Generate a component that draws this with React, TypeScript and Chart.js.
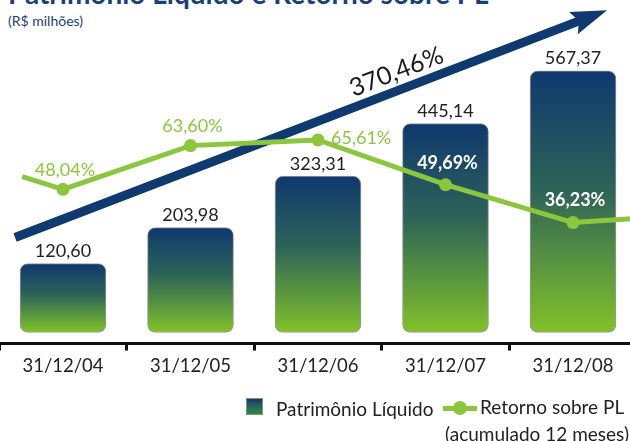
import React, { useEffect, useRef } from 'react';
import { Chart, registerables } from 'chart.js';

Chart.register(...registerables);

// ---------- data ----------
const categories = ['31/12/04', '31/12/05', '31/12/06', '31/12/07', '31/12/08'];
const patrimonioLiquido = [120.6, 203.98, 323.31, 445.14, 567.37]; // R$ milhões
const retornoPL = [48.04, 63.6, 65.61, 49.69, 36.23]; // % (acumulado 12 meses)
// the return curve runs in from the left and out to the right edge: [x index, %]
const retornoLeadIn = [-0.32, 52.6];
const retornoLeadOut = [4.46, 37.6];
// growth arrow, in [x index, R$ milhões]
const growthArrowFrom = [-0.376, 181];
const growthArrowTo = [4.267, 708];
const barAxisRange = [-64.6, 731.7];
const barBase = -39;
const retornoAxisRange = [-6.8, 115.4];
const retornoLabelPlacement = ['above', 'above', 'right', 'inside', 'inside'];

const titleText = 'Patrimônio Líquido e Retorno sobre PL';
const subtitleText = '(R$ milhões)';
const legendBarLabel = 'Patrimônio Líquido';
const legendLineLabel = 'Retorno sobre PL';
const legendLineLabel2 = '(acumulado 12 meses)';

// ---------- style ----------
const NAVY = '#0e3a6f';
const GREEN = '#8cc63f';
const TEXT = '#222222';
const FONT = 'Lato, "Open Sans", sans-serif';

const fmt = (v: number, d = 2) => v.toFixed(d).replace('.', ',');
const growthPct =
  (patrimonioLiquido[patrimonioLiquido.length - 1] / patrimonioLiquido[0] - 1) * 100;

function barGradient(c: CanvasRenderingContext2D, top: number, bottom: number) {
  const g = c.createLinearGradient(0, top, 0, bottom);
  g.addColorStop(0, '#0f386f');
  g.addColorStop(0.45, '#2d6357');
  g.addColorStop(1, '#82c12a');
  return g;
}

const overlayPlugin = {
  id: 'overlay',
  beforeDatasetsDraw(chart: any) {
    const c: CanvasRenderingContext2D = chart.ctx;
    const xs = chart.scales.xl;
    const ys = chart.scales.y;
    const x0 = xs.getPixelForValue(growthArrowFrom[0]);
    const y0 = ys.getPixelForValue(growthArrowFrom[1]);
    const x1 = xs.getPixelForValue(growthArrowTo[0]);
    const y1 = ys.getPixelForValue(growthArrowTo[1]);
    const ang = Math.atan2(y1 - y0, x1 - x0);
    const ux = Math.cos(ang), uy = Math.sin(ang);
    const nx = -uy, ny = ux;
    const headLen = 36, headHalf = 12, notch = 6;
    c.save();
    c.strokeStyle = NAVY;
    c.lineWidth = 9;
    c.lineCap = 'butt';
    c.beginPath();
    c.moveTo(x0, y0);
    c.lineTo(x1 - ux * (headLen - notch - 1), y1 - uy * (headLen - notch - 1));
    c.stroke();
    c.fillStyle = NAVY;
    c.beginPath();
    c.moveTo(x1, y1);
    c.lineTo(x1 - ux * headLen + nx * headHalf, y1 - uy * headLen + ny * headHalf);
    c.lineTo(x1 - ux * (headLen - notch), y1 - uy * (headLen - notch));
    c.lineTo(x1 - ux * headLen - nx * headHalf, y1 - uy * headLen - ny * headHalf);
    c.closePath();
    c.fill();
    // growth label along the arrow
    const f = 0.655;
    const tx = x0 + (x1 - x0) * f - nx * 18;
    const ty = y0 + (y1 - y0) * f - ny * 18;
    c.translate(tx, ty);
    c.rotate(ang);
    c.fillStyle = '#1a1a1a';
    c.font = `25px ${FONT}`;
    c.textAlign = 'center';
    c.textBaseline = 'middle';
    c.fillText(fmt(growthPct) + '%', 0, 0);
    c.restore();
  },
  afterDatasetsDraw(chart: any) {
    const c: CanvasRenderingContext2D = chart.ctx;
    c.save();
    // bar values
    const barMeta = chart.getDatasetMeta(1);
    c.font = `18px ${FONT}`;
    c.fillStyle = TEXT;
    c.textAlign = 'center';
    c.textBaseline = 'alphabetic';
    barMeta.data.forEach((el: any, i: number) => {
      c.fillText(fmt(patrimonioLiquido[i]), el.x, el.y - 6.5);
    });
    // return labels
    const lineMeta = chart.getDatasetMeta(0);
    retornoPL.forEach((v, i) => {
      const el = lineMeta.data[i + 1];
      const place = retornoLabelPlacement[i];
      c.textBaseline = 'middle';
      if (place === 'inside') {
        c.font = `bold 18px ${FONT}`;
        c.fillStyle = '#ffffff';
        c.textAlign = 'center';
        c.fillText(fmt(v) + '%', el.x + 2, el.y - 22);
      } else if (place === 'right') {
        c.font = `18px ${FONT}`;
        c.fillStyle = GREEN;
        c.textAlign = 'left';
        c.fillText(fmt(v) + '%', el.x + 13, el.y - 2);
      } else {
        c.font = `18px ${FONT}`;
        c.fillStyle = GREEN;
        c.textAlign = 'center';
        c.fillText(fmt(v) + '%', el.x + 2, el.y - 19);
      }
    });
    c.restore();
  },
};

export default function App() {
  const canvasRef = useRef<HTMLCanvasElement | null>(null);

  useEffect(() => {
    const canvas = canvasRef.current;
    if (!canvas) return;
    const lineData = [
      { x: retornoLeadIn[0], y: retornoLeadIn[1] },
      ...retornoPL.map((v, i) => ({ x: i, y: v })),
      { x: retornoLeadOut[0], y: retornoLeadOut[1] },
    ];
    const lastIdx = lineData.length - 1;
    const chart = new Chart(canvas, {
      type: 'bar',
      data: {
        labels: categories,
        datasets: [
          {
            type: 'line',
            label: legendLineLabel,
            data: lineData as any,
            xAxisID: 'xl',
            yAxisID: 'y2',
            borderColor: GREEN,
            backgroundColor: GREEN,
            borderWidth: 5,
            pointRadius: (ctx: any) => (ctx.dataIndex === 0 || ctx.dataIndex === lastIdx ? 0 : 6.5),
            pointHoverRadius: 0,
            pointBorderWidth: 0,
            tension: 0,
            order: 0,
            clip: false as any,
          } as any,
          {
            type: 'bar',
            label: legendBarLabel,
            data: patrimonioLiquido,
            base: barBase,
            xAxisID: 'x',
            yAxisID: 'y',
            grouped: false,
            backgroundColor: (ctx: any) => {
              const ys = ctx.chart.scales.y;
              if (!ys || ctx.type !== 'data') return NAVY;
              const top = ys.getPixelForValue(ctx.raw as number);
              const bot = ys.getPixelForValue(barBase);
              if (!isFinite(top) || !isFinite(bot)) return NAVY;
              return barGradient(ctx.chart.ctx, top, bot);
            },
            borderColor: '#9a9a9a',
            borderWidth: 1,
            borderRadius: 8,
            borderSkipped: false,
            barThickness: 86,
            order: 1,
          } as any,
        ],
      },
      options: {
        responsive: false,
        animation: false,
        devicePixelRatio: 1,
        layout: { padding: { left: 9.25, right: 13.25, top: 0, bottom: 60.3 } },
        plugins: {
          legend: { display: false },
          tooltip: { enabled: false },
          title: { display: false },
        },
        scales: {
          x: {
            type: 'category',
            offset: true,
            grid: {
              display: true,
              drawOnChartArea: false,
              drawTicks: true,
              tickLength: 7,
              color: '#111111',
              lineWidth: 3,
              offset: true,
            },
            border: { display: true, color: '#111111', width: 3 },
            ticks: {
              color: TEXT,
              font: { family: FONT, size: 18.5 },
              padding: 4,
              maxRotation: 0,
              autoSkip: false,
            },
          },
          xl: {
            type: 'linear',
            display: false,
            offset: false,
            grid: { offset: false },
            min: -0.5,
            max: 4.5,
          },
          y: { display: false, min: barAxisRange[0], max: barAxisRange[1] },
          y2: { display: false, min: retornoAxisRange[0], max: retornoAxisRange[1] },
        },
      } as any,
      plugins: [overlayPlugin],
    });
    return () => chart.destroy();
  }, []);

  const textBase: React.CSSProperties = {
    position: 'absolute',
    fontFamily: FONT,
    whiteSpace: 'nowrap',
    margin: 0,
  };

  return (
    <div
      style={{
        position: 'fixed',
        left: 0,
        top: 0,
        width: 630,
        height: 441,
        overflow: 'hidden',
        background: '#ffffff',
      }}
    >
      <div
        style={{
          ...textBase,
          left: 8,
          top: -22.6,
          fontSize: 28,
          lineHeight: '33.6px',
          fontWeight: 'bold',
          color: '#1b3f78',
        }}
      >
        {titleText}
      </div>
      <div
        style={{
          ...textBase,
          left: 8,
          top: 12,
          fontSize: 14,
          lineHeight: '17px',
          color: '#1f3e73',
        }}
      >
        {subtitleText}
      </div>
      <canvas
        ref={canvasRef}
        width={660}
        height={441}
        style={{ position: 'absolute', left: -10, top: 0, width: 660, height: 441 }}
      />
      {/* legend */}
      <div
        style={{
          position: 'absolute',
          left: 246,
          top: 398,
          width: 17,
          height: 17,
          boxSizing: 'border-box',
          border: '1px solid #8a8a8a',
          background: 'linear-gradient(#0f386f, #2d6357 45%, #1f8a4a)',
        }}
      />
      <div style={{ ...textBase, left: 276, top: 397, fontSize: 19, lineHeight: '23px', color: TEXT }}>
        {legendBarLabel}
      </div>
      <div
        style={{
          position: 'absolute',
          left: 443,
          top: 405.5,
          width: 34,
          height: 5,
          background: GREEN,
        }}
      />
      <div
        style={{
          position: 'absolute',
          left: 453,
          top: 401,
          width: 14,
          height: 14,
          borderRadius: 7,
          background: GREEN,
        }}
      />
      <div style={{ ...textBase, left: 480, top: 395, fontSize: 19, lineHeight: '23px', color: TEXT }}>
        {legendLineLabel}
      </div>
      <div style={{ ...textBase, left: 445, top: 422, fontSize: 19, lineHeight: '23px', color: TEXT }}>
        {legendLineLabel2}
      </div>
    </div>
  );
}
